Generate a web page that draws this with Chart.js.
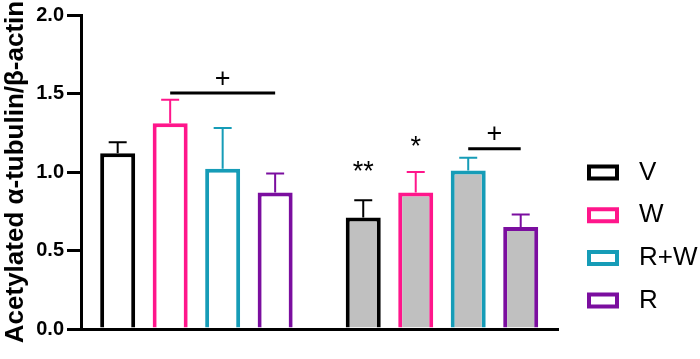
<!DOCTYPE html>
<html>
<head>
<meta charset="utf-8">
<script src="https://cdn.jsdelivr.net/npm/chart.js@4.4.0/dist/chart.umd.min.js"></script>
<style>
  html, body { margin: 0; padding: 0; background: #ffffff; }
  canvas { display: block; }
</style>
</head>
<body>
<canvas id="c" width="700" height="359"></canvas>
<script>
// ---- data ----
const groups = ['Group 1', 'Group 2'];
const series = ['V', 'W', 'R+W', 'R'];
const meanV  = [1.12, 0.71];
const meanW  = [1.31, 0.87];
const meanRW = [1.02, 1.01];
const meanR  = [0.87, 0.65];
const errV   = [0.07, 0.11];
const errW   = [0.15, 0.13];
const errRW  = [0.26, 0.08];
const errR   = [0.12, 0.08];
const yTickValues = [0, 0.5, 1.0, 1.5, 2.0];
const yTickLabels = ['0.0', '0.5', '1.0', '1.5', '2.0'];
const yTitle = 'Acetylated α-tubulin/β-actin';
// significance marks: group index, series indices, value level
const sigLines = [
  { group: 0, from: 1, to: 3, value: 1.503, mark: '+', markValue: 1.60 },
  { group: 1, from: 2, to: 3, value: 1.148, mark: '+', markValue: 1.25 }
];
const sigStars = [
  { group: 1, series: 0, mark: '**', value: 1.04 },
  { group: 1, series: 1, mark: '*',  value: 1.197 }
];

// ---- styles ----
const means = [meanV, meanW, meanRW, meanR];
const errs = [errV, errW, errRW, errR];
const colors = ['#000000', '#FF168B', '#169CB7', '#7B0E9F'];
const fills = ['#FFFFFF', '#C0C0C0'];
const FONT = "'Liberation Sans', Arial, Helvetica, sans-serif";

function drawCentered(ctx, text, x, yc) {
  const m = ctx.measureText(text);
  ctx.textAlign = 'center';
  ctx.textBaseline = 'alphabetic';
  ctx.fillText(text, x, yc + (m.actualBoundingBoxAscent - m.actualBoundingBoxDescent) / 2);
}

const errorBars = {
  id: 'errorBars',
  afterDatasetsDraw(chart) {
    const { ctx } = chart;
    const y = chart.scales.y;
    ctx.save();
    chart.data.datasets.forEach((ds, di) => {
      const meta = chart.getDatasetMeta(di);
      meta.data.forEach((bar, i) => {
        const top = y.getPixelForValue(ds.data[i].y + ds.err[i]);
        ctx.strokeStyle = ds.borderColor;
        ctx.lineWidth = 2;
        ctx.beginPath();
        ctx.moveTo(bar.x, bar.y);
        ctx.lineTo(bar.x, top);
        ctx.moveTo(bar.x - 9, top);
        ctx.lineTo(bar.x + 9, top);
        ctx.stroke();
      });
    });
    ctx.restore();
  }
};

const annotations = {
  id: 'annotations',
  afterDraw(chart) {
    const { ctx } = chart;
    const y = chart.scales.y;
    ctx.save();
    ctx.fillStyle = '#000';
    ctx.strokeStyle = '#000';
    ctx.font = '27px ' + FONT;
    sigLines.forEach(s => {
      const x1 = chart.getDatasetMeta(s.from).data[s.group].x;
      const x2 = chart.getDatasetMeta(s.to).data[s.group].x;
      const py = y.getPixelForValue(s.value);
      ctx.lineWidth = 3;
      ctx.beginPath();
      ctx.moveTo(x1, py);
      ctx.lineTo(x2, py);
      ctx.stroke();
      drawCentered(ctx, s.mark, (x1 + x2) / 2, y.getPixelForValue(s.markValue));
    });
    sigStars.forEach(s => {
      const x = chart.getDatasetMeta(s.series).data[s.group].x;
      drawCentered(ctx, s.mark, x, y.getPixelForValue(s.value));
    });
    ctx.restore();
  }
};

const sideLegend = {
  id: 'sideLegend',
  afterDraw(chart) {
    const { ctx, chartArea } = chart;
    ctx.save();
    const boxLeft = chartArea.right + 31;
    chart.data.datasets.forEach((ds, i) => {
      const cy = 172.5 + i * 42.7;
      ctx.lineWidth = 4;
      ctx.strokeStyle = ds.borderColor;
      ctx.fillStyle = '#FFFFFF';
      ctx.beginPath();
      ctx.rect(boxLeft, cy - 6, 28, 12);
      ctx.fill();
      ctx.stroke();
      ctx.fillStyle = '#000';
      ctx.font = '26px ' + FONT;
      ctx.textAlign = 'left';
      ctx.textBaseline = 'middle';
      ctx.fillText(ds.label, boxLeft + 50, cy);
    });
    ctx.restore();
  }
};

const datasets = series.map((name, k) => ({
  label: name,
  data: groups.map((g, i) => ({ x: i, y: means[k][i] })),
  err: errs[k],
  backgroundColor: fills,
  borderColor: colors[k],
  borderWidth: 4,
  borderSkipped: 'start',
  categoryPercentage: 0.855,
  barPercentage: 0.667
}));

new Chart(document.getElementById('c'), {
  type: 'bar',
  data: { datasets },
  plugins: [errorBars, annotations, sideLegend],
  options: {
    responsive: false,
    animation: false,
    devicePixelRatio: 1,
    layout: { padding: { top: 15, right: 142, left: 0, bottom: 0 } },
    plugins: { legend: { display: false }, tooltip: { enabled: false } },
    scales: {
      x: {
        type: 'linear',
        offset: false,
        min: -0.47,
        max: 1.4725,
        afterBuildTicks: s => { s.ticks = groups.map((g, i) => ({ value: i })); },
        afterFit: s => { s.height = 30; },
        ticks: { display: false },
        grid: { display: false },
        border: { display: true, width: 3, color: '#000' }
      },
      y: {
        min: 0,
        max: 2,
        afterBuildTicks: s => { s.ticks = yTickValues.map(v => ({ value: v })); },
        afterFit: s => { s.width = 81; },
        ticks: {
          color: '#000',
          padding: 3,
          font: { family: FONT, size: 20, weight: 'bold' },
          callback: (v, i) => yTickLabels[i]
        },
        grid: { drawOnChartArea: false, drawTicks: true, tickLength: 14, lineWidth: 3, color: '#000' },
        border: { display: true, width: 3, color: '#000' },
        title: {
          display: true,
          text: yTitle,
          color: '#000',
          padding: { top: 0, bottom: 0 },
          font: { family: FONT, size: 26, weight: 'bold' }
        }
      }
    }
  }
});
</script>
</body>
</html>
